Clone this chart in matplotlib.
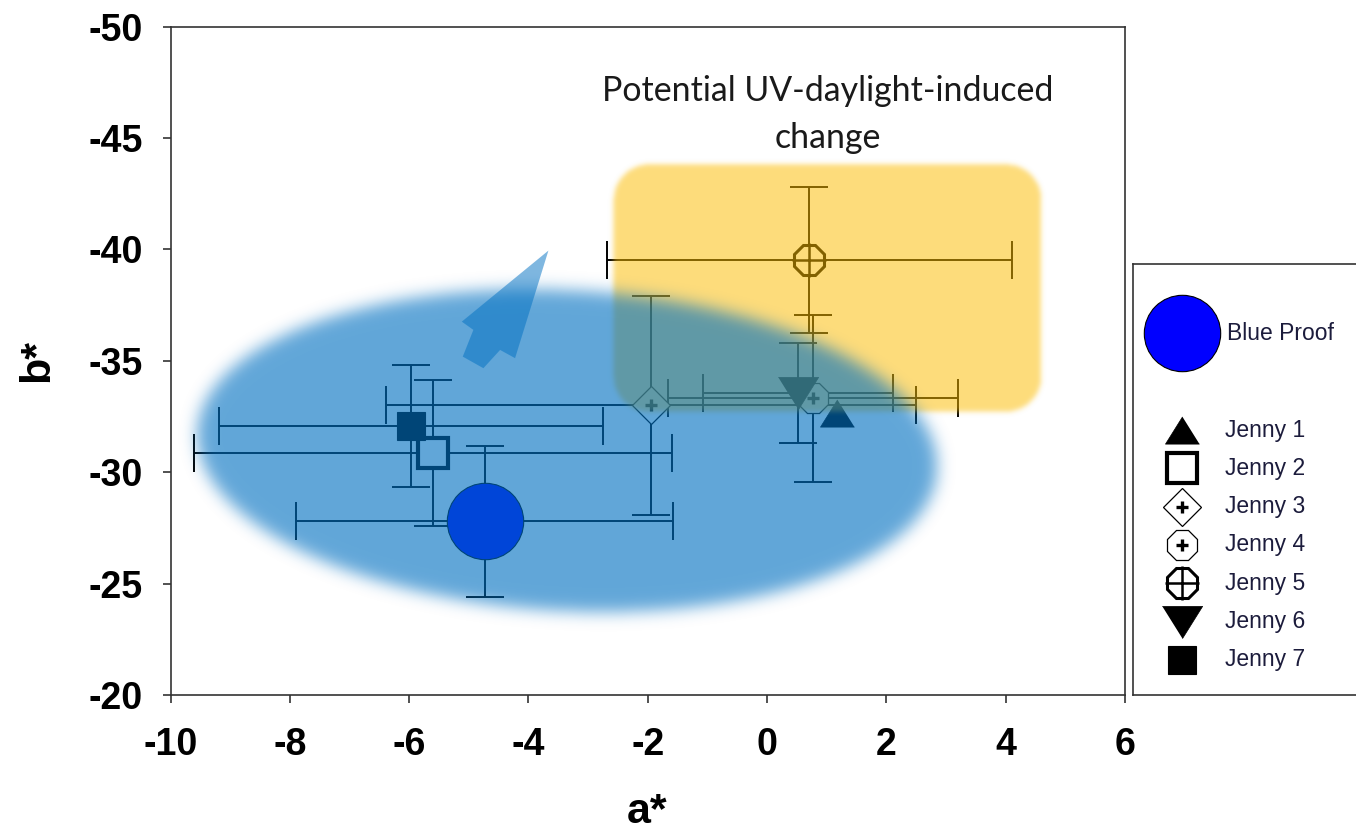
import numpy as np
import matplotlib
matplotlib.use("Agg")
import matplotlib.pyplot as plt
from matplotlib.patches import Polygon

# ---- data: CIELAB a*/b* means with standard deviations ----
names = ["Blue Proof", "Jenny 1", "Jenny 2", "Jenny 3", "Jenny 4",
         "Jenny 5", "Jenny 6", "Jenny 7"]
a_star = [-4.73, 1.18, -5.60, -1.95, 0.77, 0.71, 0.52, -5.97]
b_star = [-27.80, -32.68, -30.87, -33.00, -33.32, -39.53, -33.55, -32.08]
a_err = [3.16, 0.0, 4.00, 4.44, 2.43, 3.39, 1.59, 3.22]
b_err = [3.39, 0.0, 3.27, 4.90, 3.74, 3.26, 2.24, 2.74]

x_ticks = [-10, -8, -6, -4, -2, 0, 2, 4, 6]
y_ticks = [-50, -45, -40, -35, -30, -25, -20]

note_text = "Potential UV-daylight-induced\nchange"

# ---- marker styles ----
tri_up = [(0, 0.8), (-1, -0.8), (1, -0.8)]
tri_down = [(-1, 0.8), (1, 0.8), (0, -0.8)]
styles = [
    dict(marker="o", ms=55, mfc="#0000ff", mec="black", mew=0.8),
    dict(marker=tri_up, ms=24.5, mfc="black", mec="black", mew=0.5),
    dict(marker="s", ms=21, mfc="white", mec="black", mew=3.0),
    dict(marker="D", ms=19, mfc="white", mec="black", mew=0.9),
    dict(marker="8", ms=23, mfc="white", mec="black", mew=0.9),
    dict(marker="8", ms=24, mfc="white", mec="black", mew=2.2),
    dict(marker=tri_down, ms=29, mfc="black", mec="black", mew=0.5),
    dict(marker="s", ms=20.5, mfc="black", mec="black", mew=0.8),
]
# inner symbols drawn on top of some markers
inner = {3: dict(marker="+", ms=9, mew=2.4, color="black"),
         4: dict(marker="+", ms=9, mew=2.4, color="black"),
         5: dict(marker="+", ms=24, mew=1.8, color="black")}

FW, FH, DPI = 1356, 838, 100
fig = plt.figure(figsize=(FW / DPI, FH / DPI), dpi=DPI)
ax_l, ax_r, ax_t, ax_b = 170.5, 1125.0, 26.7, 695.0
ax = fig.add_axes([ax_l / FW, (FH - ax_b) / FH, (ax_r - ax_l) / FW, (ax_b - ax_t) / FH])

XMIN, XMAX, YTOP, YBOT = -10, 6, -50, -20

# error bars
for i in range(len(names)):
    if a_err[i] == 0 and b_err[i] == 0:
        continue
    ax.errorbar(a_star[i], b_star[i], xerr=a_err[i], yerr=b_err[i], fmt="none",
                ecolor="black", elinewidth=1.4, capsize=14, capthick=1.4, zorder=2)

# markers
for i in range(len(names)):
    ax.plot(a_star[i], b_star[i], linestyle="none", zorder=3, **styles[i])
    if i in inner:
        ax.plot(a_star[i], b_star[i], linestyle="none", zorder=3.5, **inner[i])

ax.set_xlim(XMIN, XMAX)
ax.set_ylim(YBOT, YTOP)

# ---- translucent highlight regions ----
nx, ny = int(ax_r - ax_l), int(ax_b - ax_t)
sx = nx / (XMAX - XMIN)
sy = ny / (YBOT - YTOP)
gx = XMIN + (np.arange(nx) + 0.5) / nx * (XMAX - XMIN)
gy = YTOP + (np.arange(ny) + 0.5) / ny * (YBOT - YTOP)
GX, GY = np.meshgrid(gx, gy)


def blur(img, sigma):
    r = int(3 * sigma) + 1
    k = np.exp(-0.5 * (np.arange(-r, r + 1) / sigma) ** 2)
    k /= k.sum()
    pad = np.pad(img, r, mode="edge")
    tmp = np.apply_along_axis(lambda m: np.convolve(m, k, mode="valid"), 1, pad)
    return np.apply_along_axis(lambda m: np.convolve(m, k, mode="valid"), 0, tmp)


def overlay(mask, rgb, alpha, z):
    img = np.zeros((ny, nx, 4))
    img[..., :3] = rgb
    img[..., 3] = np.clip(mask, 0, 1) * alpha
    ax.imshow(img, extent=(XMIN, XMAX, YBOT, YTOP), origin="upper",
              aspect="auto", interpolation="bilinear", zorder=z)


# yellow rounded box (region of expected change)
bx0, bx1, by0, by1, rad = -2.58, 4.58, -43.79, -32.71, 35
cxp, cyp = (bx0 + bx1) / 2, (by0 + by1) / 2
hw, hh = (bx1 - bx0) / 2 * sx, (by1 - by0) / 2 * sy
dx = np.abs(GX - cxp) * sx
dy = np.abs(GY - cyp) * sy
qx = np.maximum(dx - (hw - rad), 0)
qy = np.maximum(dy - (hh - rad), 0)
box = ((dx <= hw) & (dy <= hh) & (qx ** 2 + qy ** 2 <= rad ** 2)).astype(float)
overlay(blur(box, 2.5), (0.99, 0.74, 0.0), 0.52, 4)

# blue soft ellipse (proof cluster)
ecx, ecy, ea, eb, th = -3.36, -30.96, 370, 160, np.deg2rad(3)
ex = (GX - ecx) * sx
ey = (GY - ecy) * sy
u = ex * np.cos(th) + ey * np.sin(th)
v = -ex * np.sin(th) + ey * np.cos(th)
ell = ((u / ea) ** 2 + (v / eb) ** 2 <= 1).astype(float)
overlay(blur(ell, 8), (0.0, 0.44, 0.76), 0.62, 5)

# arrow pointing towards the yellow region
arrow_xy = [(-3.665, -39.95), (-5.117, -36.76), (-4.923, -36.39), (-5.101, -35.19),
            (-4.755, -34.67), (-4.475, -35.49), (-4.224, -35.12)]
ax.add_patch(Polygon(arrow_xy, closed=True, facecolor=(0.0, 0.44, 0.76),
                     edgecolor="none", alpha=0.5, zorder=6))

ax.text(0.689, 0.8686, note_text, transform=ax.transAxes, ha="center", va="center",
        fontsize=24.4, family="Lato", color="#1a1a1a", linespacing=1.6, zorder=7)

# ---- axes styling ----
for s in ax.spines.values():
    s.set_color("#333333")
    s.set_linewidth(1.2)
    s.set_zorder(8)
ax.set_xticks(x_ticks)
ax.set_yticks(y_ticks)
ax.set_xticklabels([str(t) for t in x_ticks])
ax.set_yticklabels([str(t) for t in y_ticks])
ax.tick_params(direction="out", length=6, width=1.2, color="#333333",
               labelsize=27, top=False, right=False)
ax.tick_params(axis="x", pad=17)
ax.tick_params(axis="y", pad=14)
for lab in ax.get_xticklabels() + ax.get_yticklabels():
    lab.set_fontfamily("Liberation Sans")
    lab.set_fontweight("bold")

ax.set_xlabel("a*", fontsize=31, fontweight="bold", family="Liberation Sans",
              va="center", ha="center")
ax.xaxis.set_label_coords(0.499, -0.175)
ax.set_ylabel("b*", fontsize=31, fontweight="bold", family="Liberation Sans",
              va="center", ha="center")
ax.yaxis.set_label_coords(-0.140, 0.501)

# ---- legend panel ----
lg_l, lg_t, lg_b = 1132.7, 264.0, 695.0
lw_px = FW + 4 - lg_l
lax = fig.add_axes([lg_l / FW, (FH - lg_b) / FH, lw_px / FW, (lg_b - lg_t) / FH])
lax.set_xlim(0, lw_px)
lax.set_ylim(lg_b - lg_t, 0)
lax.set_xticks([])
lax.set_yticks([])
for s in lax.spines.values():
    s.set_color("#333333")
    s.set_linewidth(1.2)

mx = 49.0
rows_y = [69.3] + [166.0 + 38.3 * k for k in range(len(names) - 1)]
for i, name in enumerate(names):
    lax.plot(mx, rows_y[i], linestyle="none", clip_on=False, **styles[i])
    if i in inner:
        lax.plot(mx, rows_y[i], linestyle="none", clip_on=False, **inner[i])
    tx = 94.0 if i == 0 else 92.3
    lax.text(tx, rows_y[i], name, ha="left", va="center", fontsize=16.5,
             family="Liberation Sans", color="#1c1c3c")

fig.savefig("out.png", dpi=DPI)
